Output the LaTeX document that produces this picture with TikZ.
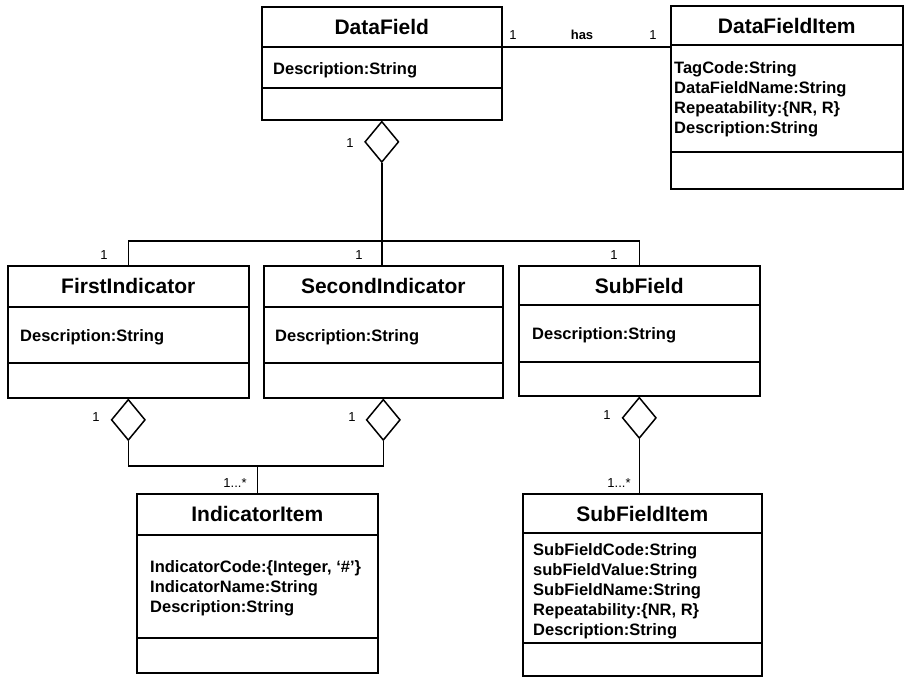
\documentclass[tikz,border=0pt]{standalone}
\usepackage{fontspec}
\setmainfont{Liberation Sans}
\usetikzlibrary{shapes.geometric,calc}

\begin{document}
\begin{tikzpicture}[x=1pt,y=-1pt,
	classbox/.style={draw,line width=1.6pt,anchor=north west,inner sep=0pt},
	ctitle/.style={font=\fontsize{21}{24}\selectfont\bfseries},
	attr/.style={font=\fontsize{16.5}{20}\selectfont\bfseries,align=left,anchor=west,inner sep=0pt},
	mult/.style={font=\fontsize{13}{15}\selectfont},
	conn/.style={line width=1.5pt},
	aggr/.style={draw,diamond,line width=1.5pt,minimum width=34pt,minimum height=41pt,inner sep=0pt,anchor=north,fill=white}]
	\useasboundingbox (0,0) rectangle (904,677);

	% classes
	\node[classbox,minimum width=240pt,minimum height=113pt] (df) at (261,6) {};
	\node[classbox,minimum width=232pt,minimum height=183pt] (dfi) at (670,5) {};
	\node[classbox,minimum width=241pt,minimum height=132pt] (fi) at (7,265) {};
	\node[classbox,minimum width=239pt,minimum height=132pt] (si) at (263,265) {};
	\node[classbox,minimum width=241pt,minimum height=130pt] (sf) at (518,265) {};
	\node[classbox,minimum width=241pt,minimum height=179pt] (ii) at (136,493) {};
	\node[classbox,minimum width=239pt,minimum height=182pt] (sfi) at (522,493) {};

	\foreach \n/\a/\b/\t in {df/41/82/DataField,dfi/40/147/DataFieldItem,
		fi/42/98/FirstIndicator,si/42/98/SecondIndicator,sf/40/97/SubField,
		ii/42/145/IndicatorItem,sfi/40/150/SubFieldItem}{
		\draw[line width=1.6pt] ($(\n.north west)+(0,\a)$) -- ($(\n.north east)+(0,\a)$);
		\draw[line width=1.6pt] ($(\n.north west)+(0,\b)$) -- ($(\n.north east)+(0,\b)$);
		\node[ctitle] at ($(\n.north)+(0,20.5)$) {\t};
	}

	% attributes
	\node[attr] (dfa) at (273,70) {Description:String};
	\node[attr] (dfia) at (674,99) {TagCode:String\\DataFieldName:String\\Repeatability:\{NR, R\}\\Description:String};
	\node[attr] (fia) at (20,337) {Description:String};
	\node[attr] (sia) at (275,337) {Description:String};
	\node[attr] (sfa) at (532,335) {Description:String};
	\node[attr] (iia) at (150,588) {IndicatorCode:\{Integer, ‘\#’\}\\IndicatorName:String\\Description:String};
	\node[attr] (sfia) at (533,591) {SubFieldCode:String\\subFieldValue:String\\SubFieldName:String\\Repeatability:\{NR, R\}\\Description:String};

	% has
	\coordinate (hasl) at ($(df.north east)+(0,41)$);
	\draw[conn] (hasl) -- (hasl -| dfi.west);
	\node[mult] at (513,35) {1};
	\node[mult,font=\fontsize{13}{15}\selectfont\bfseries] at (582,35) {has};
	\node[mult] at (653,35) {1};

	% aggregations
	\node[aggr] (dfd) at (df.south) {};
	\node[aggr] (fid) at (fi.south) {};
	\node[aggr] (sid) at (si.south) {};
	\node[aggr] (sfd) at (sf.south) {};

	\coordinate (split) at (dfd.south |- 0,241);
	\draw[conn] (dfd.south) -- (split);
	\draw[conn] (fi.north) |- (split) -| (sf.north);
	\draw[conn] (split) -- (split |- si.north);

	\coordinate (ijoin) at (ii.north |- 0,466);
	\draw[conn] (fid.south) |- (ijoin) -| (sid.south);
	\draw[conn] (ijoin) -- (ii.north);
	\draw[conn] (sfd.south) -- (sfd.south |- sfi.north);

	\node[mult] at (350,143) {1};
	\node[mult] at (104,255) {1};
	\node[mult] at (359,255) {1};
	\node[mult] at (614,255) {1};
	\node[mult] at (96,417) {1};
	\node[mult] at (352,417) {1};
	\node[mult] at (607,415) {1};
	\node[mult] at (235,483) {1...*};
	\node[mult] at (619,483) {1...*};
\end{tikzpicture}
\end{document}
